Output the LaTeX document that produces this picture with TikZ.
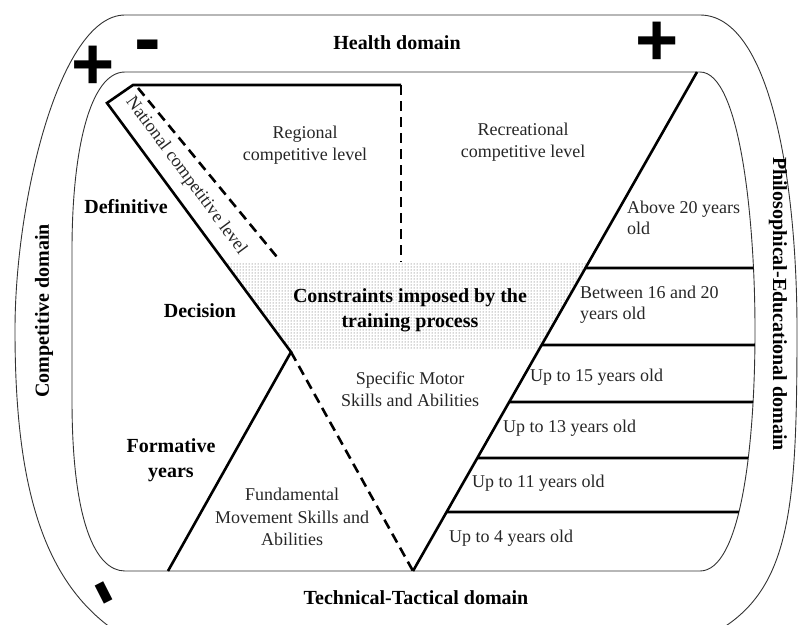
\documentclass[tikz,border=0pt]{standalone}
\usepackage{fontspec}
\setmainfont{Liberation Serif}
\newfontfamily\signfont{Liberation Sans}
\usetikzlibrary{patterns}

\begin{document}
\begin{tikzpicture}[x=1pt, y=-1pt,
    frame/.style={draw=black!80, line width=0.9pt},
    heavy/.style={line width=2.6pt},
    heavydash/.style={line width=2.6pt, dash pattern=on 10pt off 6pt},
    level/.style={font=\fontsize{18}{22.5}\selectfont, align=center, text=black!85},
    age/.style={font=\fontsize{18}{21}\selectfont, anchor=west, align=left, inner sep=2pt, text=black!85},
    phase/.style={font=\fontsize{20}{25}\selectfont\bfseries, align=center},
    domainlbl/.style={font=\fontsize{20}{24}\selectfont\bfseries},
    plussign/.style={font=\fontsize{74}{74}\selectfont\signfont\bfseries, inner sep=0pt},
    minussign/.style={font=\fontsize{80}{80}\selectfont\signfont\bfseries, inner sep=0pt}
]
\clip (0,0) rectangle (800,624);

% outer and inner frames
\draw[frame] (125,15) -- (700,15)
    .. controls (770,15) and (797,180) .. (797,330)
    .. controls (797,520) and (790,600) .. (700,640)
    -- (130,640)
    .. controls (40,590) and (15,480) .. (15,330)
    .. controls (15,200) and (60,15) .. cycle;
\draw[frame] (125,72) -- (700,72)
    .. controls (740,72) and (755,220) .. (755,330)
    .. controls (755,450) and (740,571) .. (700,571)
    -- (125,571)
    .. controls (95,571) and (72,520) .. (72,400)
    -- (72,250)
    .. controls (72,150) and (90,72) .. cycle;

% key points
\coordinate (tl) at (107,103);
\coordinate (tt) at (133,85);
\coordinate (tm) at (401,85);
\coordinate (dv) at (401,262);
\coordinate (mid) at (291,352);
\coordinate (fb) at (168,571);
\coordinate (vb) at (413,571);
\coordinate (rt) at (697,72);
\coordinate (nd1) at (138,88);
\coordinate (nd2) at (277,257);

% shaded band
\fill[pattern=dots, pattern color=black!70]
    (intersection of tl--mid and 0,262--800,262) --
    (intersection of vb--rt and 0,262--800,262) --
    (intersection of vb--rt and 0,350--800,350) --
    (intersection of tl--mid and 0,350--800,350) -- cycle;

% thick outline
\draw[heavy] (tm) -- (tt) -- (tl) -- (mid) -- (fb);
\draw[heavy] (vb) -- (rt);
\draw[heavydash] (tm) -- (dv);
\draw[heavydash] (nd1) -- (nd2);
\draw[heavydash] (mid) -- (vb);

% age bands
\begin{scope}
\clip (125,72) -- (700,72)
    .. controls (740,72) and (755,220) .. (755,330)
    .. controls (755,450) and (740,571) .. (700,571) -- (400,571) -- (400,72) -- cycle;
\foreach \yy in {268,345,402,458,512}
    \draw[heavy] (intersection of vb--rt and 0,\yy--800,\yy) -- (800,\yy);
\end{scope}

% signs
\node[plussign] (plustl) at (93,68) {+};
\node[minussign] (minust) at (148,53) {-};
\node[plussign] (plustr) at (657,44) {+};
\node[minussign, rotate=-63] (minusbl) at (97,597) {-};

% domains
\node[domainlbl] (health) at (397,43) {Health domain};
\node[domainlbl] (techtac) at (416,598) {Technical-Tactical domain};
\node[domainlbl, rotate=90] (compet) at (44,311) {Competitive domain};
\node[domainlbl, rotate=-90] (philo) at (778,304) {Philosophical-Educational domain};

% phases
\node[phase] (defin) at (126,207) {Definitive};
\node[phase] (decis) at (200,311) {Decision};
\node[phase] (format) at (171,460) {Formative\\years};
\node[phase] (constr) at (410,310) {Constraints imposed by the\\training process};

% levels
\node[level] (regional) at (305,145) {Regional\\competitive level};
\node[level] (recreat) at (523,142) {Recreational\\competitive level};
\node[level, rotate=-53.5] (national) at (186,176) {National competitive level};
\node[level] (specific) at (410,389) {Specific Motor\\Skills and Abilities};
\node[level] (fundam) at (292,517) {Fundamental\\Movement Skills and\\Abilities};

% ages
\node[age] (above20) at (625,218) {Above 20 years\\old};
\node[age] (btw1620) at (578,305) {Between 16 and 20\\years old};
\node[age] (upto15) at (528,377) {Up to 15 years old};
\node[age] (upto13) at (501,428) {Up to 13 years old};
\node[age] (upto11) at (470,483) {Up to 11 years old};
\node[age] (upto4) at (447,538) {Up to 4 years old};
\end{tikzpicture}
\end{document}
